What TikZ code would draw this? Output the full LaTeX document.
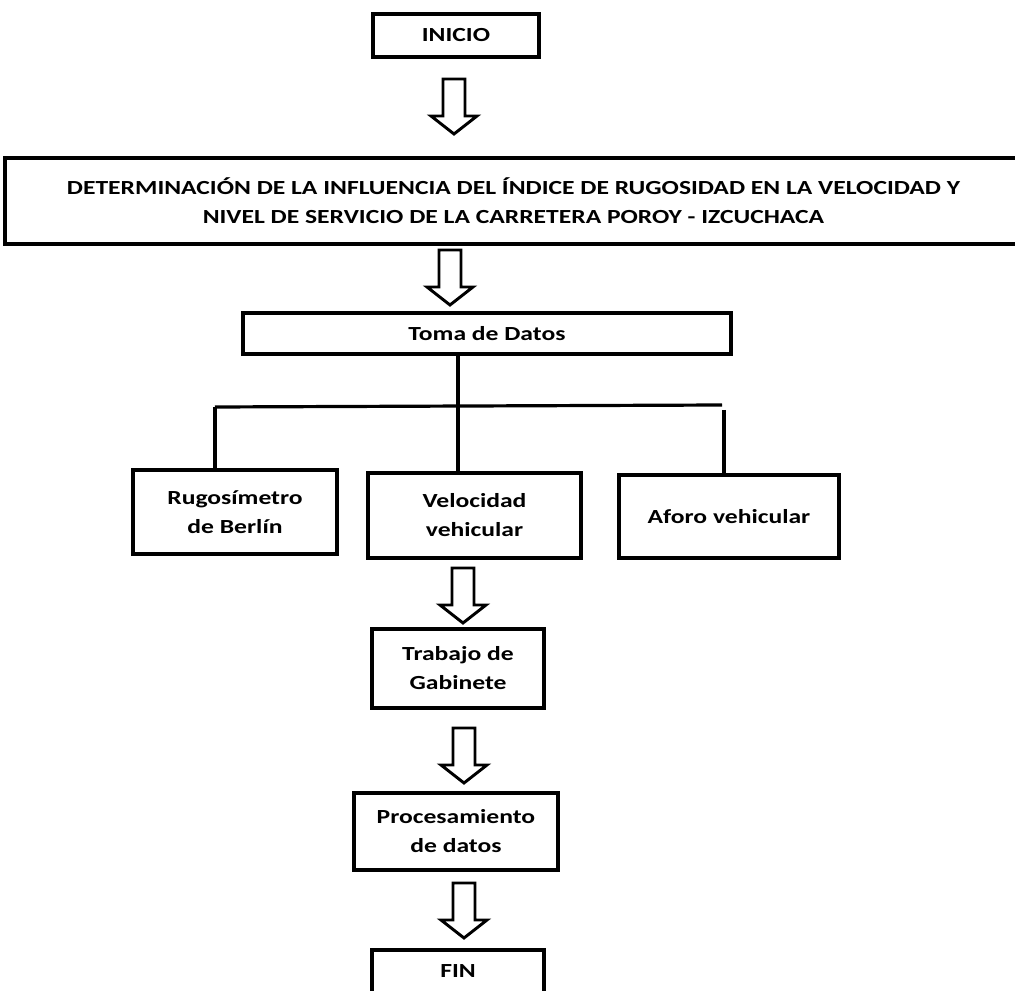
\documentclass[tikz,border=0pt]{standalone}
\usepackage{fontspec}
\setmainfont{Carlito}[FakeStretch=1.28]
\usetikzlibrary{calc}
\begin{document}
\begin{tikzpicture}[x=0.75pt,y=-0.75pt,
  box/.style={draw=black, line width=2.8pt, fill=white, align=center,
    font=\bfseries\fontsize{15}{21.75}\selectfont, inner sep=0pt},
  link/.style={draw=black, line width=2.4pt},
  harrow/.style={draw=black, line width=2.2pt, fill=white, line join=miter},
  pics/blockarrow/.style={code={
    \draw[harrow] (-11,0) -- (11,0) -- (11,37) -- (23,37) -- (0,55) -- (-23,37) -- (-11,37) -- cycle;}}]
\useasboundingbox (0,0) rectangle (1015,991);
\fill[white] (0,0) rectangle (1015,991);

% boxes
\node[box, minimum width=124.5pt, minimum height=32.25pt] (inicio) at (456,35.5) {INICIO};
\node[box, minimum width=762.75pt, minimum height=64.5pt] (title) at (513.5,201)
  {DETERMINACIÓN DE LA INFLUENCIA DEL ÍNDICE DE RUGOSIDAD EN LA VELOCIDAD Y\\NIVEL DE SERVICIO DE LA CARRETERA POROY - IZCUCHACA};
\node[box, minimum width=366pt, minimum height=30.75pt] (toma) at (487,333.5) {Toma de Datos};
\node[box, minimum width=153pt, minimum height=63pt] (rugo) at (235,512) {Rugosímetro\\de Berlín};
\node[box, minimum width=159.75pt, minimum height=63.75pt] (velo) at (474.5,515.5) {Velocidad\\vehicular};
\node[box, minimum width=165pt, minimum height=62.25pt] (aforo) at (729,516.5) {Aforo vehicular};
\node[box, minimum width=129pt, minimum height=59.25pt] (trab) at (458,668.5) {Trabajo de\\Gabinete};
\node[box, minimum width=153pt, minimum height=57.75pt] (proc) at (456,831.5) {Procesamiento\\de datos};
\node[box, minimum width=129pt, minimum height=32.25pt] (fin) at (458,971.5) {FIN};

% block arrows
\pic at (454,79) {blockarrow};
\pic at (450,250) {blockarrow};
\pic at (463,568) {blockarrow};
\pic at (464,728) {blockarrow};
\pic at (464,883) {blockarrow};

% tree connectors
\coordinate (xm) at (458,0);
\coordinate (hl) at (215,407);
\coordinate (hr) at (722,405);
\coordinate (vr) at (724,410);
\draw[link] (toma.south -| xm) -- (velo.north -| xm);
\draw[link] (hl) -- (hr);
\draw[link] (hl) -- (rugo.north -| hl);
\draw[link] (vr) -- (aforo.north -| vr);
\end{tikzpicture}
\end{document}
